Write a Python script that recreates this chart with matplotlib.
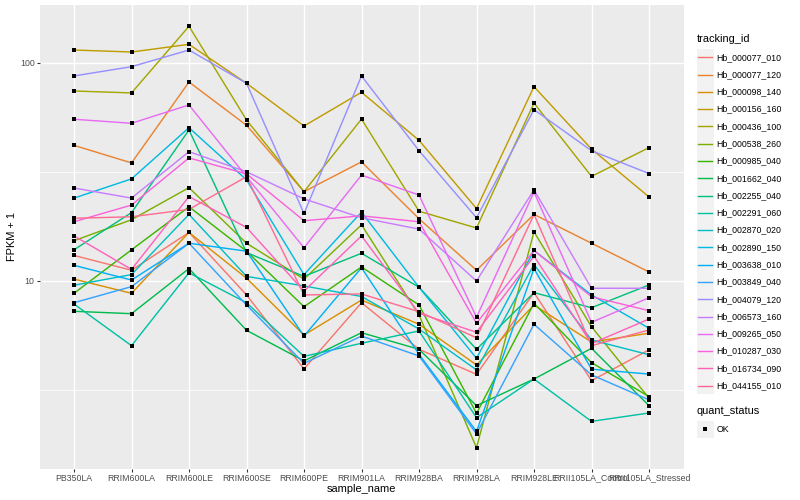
import numpy as np
import matplotlib
matplotlib.use("Agg")
import matplotlib.pyplot as plt
from matplotlib.ticker import FixedLocator, NullFormatter

plt.rcParams['font.family'] = ['Liberation Sans', 'DejaVu Sans']

samples = ["PB350LA", "RRIM600LA", "RRIM600LE", "RRIM600SE", "RRIM600PE",
           "RRIM901LA", "RRIM928BA", "RRIM928LA", "RRIM928LE",
           "RRII105LA_Control", "RRII105LA_Stressed"]

tracking_ids = ["Hb_000077_010", "Hb_000077_120", "Hb_000098_140", "Hb_000156_160",
                "Hb_000436_100", "Hb_000538_260", "Hb_000985_040", "Hb_001662_040",
                "Hb_002255_040", "Hb_002291_060", "Hb_002870_020", "Hb_002890_150",
                "Hb_003638_010", "Hb_003849_040", "Hb_004079_120", "Hb_006573_160",
                "Hb_009265_050", "Hb_010287_030", "Hb_016734_090", "Hb_044155_010"]

# FPKM + 1 per sample
hb_000077_010 = [13.1, 11.2, 16.7, 8.63, 3.95, 7.95, 4.86, 3.73, 8.84, 3.49, 4.83]
hb_000077_120 = [41.9, 34.8, 81.8, 51.8, 25.7, 35.2, 19.3, 11.2, 20.2, 14.9, 11.0]
hb_000098_140 = [10.2, 8.78, 16.7, 10.3, 5.65, 8.18, 6.33, 4.12, 7.76, 5.25, 5.76]
hb_000156_160 = [114.7, 112.3, 121.8, 80.7, 51.4, 73.4, 44.2, 21.5, 77.9, 40.3, 24.3]
hb_000436_100 = [74.4, 72.9, 147.4, 54.8, 25.7, 55.3, 20.9, 17.5, 65.5, 30.2, 40.9]
hb_000538_260 = [15.3, 19.1, 26.8, 14.9, 10.2, 18.1, 6.98, 1.72, 16.8, 6.17, 2.90]
hb_000985_040 = [8.78, 13.9, 21.9, 13.7, 7.62, 11.6, 7.76, 2.47, 7.90, 4.22, 2.95]
hb_001662_040 = [7.26, 7.08, 11.4, 5.94, 4.30, 5.79, 4.86, 2.68, 3.55, 4.91, 2.68]
hb_002255_040 = [13.9, 20.6, 49.3, 13.5, 10.5, 13.4, 9.36, 4.86, 8.84, 7.54, 9.59]
hb_002291_060 = [7.84, 5.05, 10.9, 7.95, 4.51, 5.18, 5.90, 2.36, 3.55, 2.27, 2.48]
hb_002870_020 = [9.56, 10.7, 20.2, 10.5, 9.49, 8.49, 6.02, 3.91, 11.9, 5.36, 4.59]
hb_002890_150 = [24.0, 29.4, 50.5, 29.1, 10.7, 20.7, 9.36, 4.42, 13.8, 8.63, 6.07]
hb_003638_010 = [11.8, 10.1, 14.9, 13.7, 5.59, 11.5, 4.61, 2.04, 11.4, 3.94, 3.74]
hb_003849_040 = [7.95, 9.42, 14.9, 7.76, 4.19, 5.59, 4.53, 1.99, 6.33, 3.71, 2.85]
hb_004079_120 = [87.2, 96.2, 114.7, 80.7, 20.4, 87.2, 39.6, 19.5, 61.1, 39.6, 31.1]
hb_006573_160 = [26.7, 24.0, 39.2, 31.7, 23.8, 19.5, 17.3, 10.0, 26.2, 9.26, 9.26]
hb_009265_050 = [55.2, 52.9, 64.2, 30.1, 14.2, 30.6, 24.8, 6.82, 25.6, 6.46, 8.38]
hb_010287_030 = [18.7, 22.3, 36.7, 31.0, 18.9, 19.9, 18.7, 6.40, 13.8, 8.47, 7.31]
hb_016734_090 = [16.1, 11.3, 24.4, 17.6, 8.99, 16.1, 7.11, 5.82, 13.0, 5.16, 6.69]
hb_044155_010 = [19.4, 19.7, 21.3, 30.1, 8.63, 8.72, 7.23, 5.49, 20.2, 5.05, 5.96]

series = [hb_000077_010, hb_000077_120, hb_000098_140, hb_000156_160, hb_000436_100,
          hb_000538_260, hb_000985_040, hb_001662_040, hb_002255_040, hb_002291_060,
          hb_002870_020, hb_002890_150, hb_003638_010, hb_003849_040, hb_004079_120,
          hb_006573_160, hb_009265_050, hb_010287_030, hb_016734_090, hb_044155_010]

colors = ["#F8766D", "#EA8331", "#D89000", "#C09B00", "#A3A500", "#7CAE00", "#39B600",
          "#00BB4E", "#00BF7D", "#00C1A3", "#00BFC4", "#00BAE0", "#00B0F6", "#35A2FF",
          "#9590FF", "#C77CFF", "#E76BF3", "#FA62DB", "#FF62BC", "#FF6C91"]

W, H = 800, 500
fig = plt.figure(figsize=(8, 5), dpi=100)
px = 72.0 / 100.0  # points per pixel

L, R, T, B = 39.5, 683.5, 5.2, 468.7
ax = fig.add_axes([L / W, 1 - B / H, (R - L) / W, (B - T) / H])
ax.set_facecolor("#EBEBEB")
for s in ax.spines.values():
    s.set_visible(False)

x = np.arange(len(samples))
for vals, c in zip(series, colors):
    ax.plot(x, vals, color=c, lw=1.42 * px, zorder=3, solid_capstyle="butt")
for vals in series:
    ax.plot(x, vals, linestyle="none", marker="s", ms=3.6 * px, color="black",
            mec="black", mew=0, zorder=4)

ax.set_yscale("log")
allv = np.concatenate([np.asarray(v, float) for v in series])
lo, hi = np.log10(allv.min()), np.log10(allv.max())
pad = 0.05 * (hi - lo)
ax.set_ylim(10 ** (lo - pad), 10 ** (hi + pad))
ax.set_xlim(-0.6, len(samples) - 0.4)

ax.yaxis.set_major_locator(FixedLocator([10, 100]))
ax.yaxis.set_minor_locator(FixedLocator([10 ** 0.5, 10 ** 1.5, 10 ** 2.5]))
ax.yaxis.set_minor_formatter(NullFormatter())
ax.set_yticklabels(["10", "100"])
ax.set_xticks(x)
ax.set_xticklabels(samples)

ax.grid(which="major", axis="both", color="white", lw=1.42 * px, zorder=1)
ax.grid(which="minor", axis="y", color="white", lw=0.71 * px, zorder=1)
ax.set_axisbelow(True)
ax.tick_params(which="major", length=2.75 * px, width=1.07 * px, color="#333333",
               labelsize=8.8 * px, labelcolor="#4D4D4D", pad=2.2 * px)
ax.tick_params(which="minor", length=0)

# overlay for titles and legend (pixel coordinates)
ov = fig.add_axes([0, 0, 1, 1], facecolor="none")
ov.set_xlim(0, W)
ov.set_ylim(H, 0)
ov.axis("off")

ov.text((L + R) / 2, 489, "sample_name", ha="center", va="center", fontsize=11 * px, color="black")
ov.text(12.5, (T + B) / 2, "FPKM + 1", ha="center", va="center", rotation=90,
        fontsize=11 * px, color="black")

# legend: tracking_id
kx0, kw = 696.5, 17.28
ov.text(696.5, 39.5, "tracking_id", ha="left", va="center", fontsize=11 * px, color="black")
ky0 = 48.7
for i, (tid, c) in enumerate(zip(tracking_ids, colors)):
    y0 = ky0 + i * kw
    ov.add_patch(plt.Rectangle((kx0, y0), kw, kw, facecolor="#F2F2F2", edgecolor="none"))
    ov.plot([kx0 + 1.7, kx0 + kw - 1.7], [y0 + kw / 2, y0 + kw / 2], color=c, lw=1.42 * px)
    ov.text(kx0 + kw + 2.8, y0 + kw / 2, tid, ha="left", va="center",
            fontsize=8.8 * px, color="black")

# legend: quant_status
ov.text(696.5, 411.5, "quant_status", ha="left", va="center", fontsize=11 * px, color="black")
qy0 = 420.5
ov.add_patch(plt.Rectangle((kx0, qy0), kw, kw, facecolor="#F2F2F2", edgecolor="none"))
ov.plot([kx0 + kw / 2], [qy0 + kw / 2], marker="s", ms=3.6 * px, color="black", mew=0)
ov.text(kx0 + kw + 2.8, qy0 + kw / 2, "OK", ha="left", va="center", fontsize=8.8 * px, color="black")

fig.savefig("out.png", dpi=100)
